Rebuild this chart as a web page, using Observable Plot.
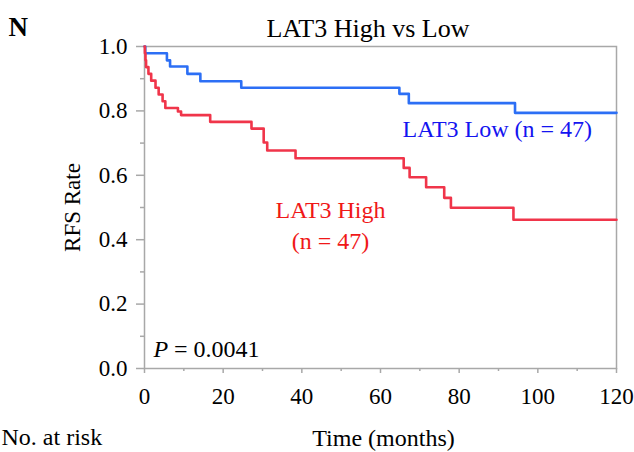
<!DOCTYPE html>
<html>
<head>
<meta charset="utf-8">
<script src="https://cdn.jsdelivr.net/npm/d3@7"></script>
<script src="https://cdn.jsdelivr.net/npm/@observablehq/plot@0.6"></script>
<style>
  html, body { margin: 0; padding: 0; background: white; }
</style>
</head>
<body>
<div id="chart"></div>
<script>
// LAT3 Low (n = 47): Kaplan–Meier step points (months, RFS rate)
const lowTime = [0, 0.2, 5.7, 6.5, 10.9, 14.2, 24.6, 64.8, 67.2, 94.2, 120];
const lowRate = [1.0, 0.979, 0.957, 0.938, 0.915, 0.892, 0.872, 0.853, 0.824, 0.794, 0.794];

// LAT3 High (n = 47)
const highTime = [0, 0.1, 0.25, 0.4, 1.0, 1.7, 2.8, 3.6, 4.6, 5.3, 8.5, 9.3, 16.7, 27.2, 30.3, 31.2, 38.4, 65.9, 67.4, 71.6, 76.2, 77.9, 93.8, 120];
const highRate = [1.0, 0.979, 0.957, 0.936, 0.915, 0.894, 0.872, 0.851, 0.830, 0.809, 0.798, 0.787, 0.766, 0.745, 0.702, 0.677, 0.653, 0.623, 0.594, 0.563, 0.530, 0.499, 0.462, 0.462];

// Tick labels
const xTicks = [0, 20, 40, 60, 80, 100, 120];
const xMinorTicks = [10, 30, 50, 70, 90, 110];
const yTicks = [0, 0.2, 0.4, 0.6, 0.8, 1.0];
const yMinorTicks = [0.1, 0.3, 0.5, 0.7, 0.9];

const lowData = lowTime.map((t, i) => ({t, s: lowRate[i]}));
const highData = highTime.map((t, i) => ({t, s: highRate[i]}));

const gray = "#a8a8a8";
const blue = "#2c6ff5";
const red = "#f0354a";

const chart = Plot.plot({
  width: 634,
  height: 452,
  marginLeft: 144,
  marginRight: 18,
  marginTop: 46,
  marginBottom: 84,
  style: {fontFamily: "'Liberation Serif', 'Times New Roman', serif", fontSize: "23px", background: "white", color: "black", overflow: "visible"},
  x: {domain: [0, 120]},
  y: {domain: [0, 1]},
  marks: [
    Plot.frame({stroke: gray, strokeWidth: 1.5}),
    Plot.axisY(yTicks, {anchor: "left", tickSize: 8, tickPadding: 9, stroke: gray, strokeWidth: 1.5, fill: "black", fontSize: 23, tickFormat: d => d.toFixed(1), label: null}),
    Plot.axisY(yMinorTicks, {anchor: "left", tickSize: 4, stroke: gray, strokeWidth: 1.5, tickFormat: () => "", label: null}),
    Plot.axisX(xTicks, {anchor: "bottom", tickSize: 5, tickPadding: 14, stroke: gray, strokeWidth: 1.5, fill: "black", fontSize: 23, label: null}),
    Plot.axisX(xMinorTicks, {anchor: "bottom", tickSize: 3, stroke: gray, strokeWidth: 1.5, tickFormat: () => "", label: null}),
    Plot.line(lowData, {x: "t", y: "s", curve: "step-after", stroke: blue, strokeWidth: 2.6}),
    Plot.line(highData, {x: "t", y: "s", curve: "step-after", stroke: red, strokeWidth: 2.6}),
    // Group labels
    Plot.text(["LAT3 Low (n = 47)"], {x: 89.7, y: 0.744, text: d => d, fill: "#1414f0", fontSize: 24, textAnchor: "middle", lineAnchor: "middle"}),
    Plot.text(["LAT3 High\n(n = 47)"], {x: 47.3, y: 0.451, text: d => d, fill: "#f01818", fontSize: 24, textAnchor: "middle", lineAnchor: "middle", lineHeight: 1.3}),
    // P value
    Plot.text(["P"], {x: 2.3, y: 0.061, text: d => d, fontSize: 24, fontStyle: "italic", textAnchor: "start", lineAnchor: "middle"}),
    Plot.text([" = 0.0041"], {x: 2.3, y: 0.061, dx: 14.5, text: d => d, fontSize: 24, textAnchor: "start", lineAnchor: "middle"}),
    // Title and panel letter
    Plot.text(["LAT3 High vs Low"], {frameAnchor: "top", dx: -12.5, dy: -9.5, text: d => d, fontSize: 26, textAnchor: "middle", lineAnchor: "bottom"}),
    Plot.text(["N"], {frameAnchor: "top-left", dx: -136, dy: -11, text: d => d, fontSize: 27, fontWeight: "bold", textAnchor: "start", lineAnchor: "bottom"}),
    // Axis titles
    Plot.text(["RFS Rate"], {frameAnchor: "left", dx: -72, text: d => d, fontSize: 23, rotate: -90, textAnchor: "middle", lineAnchor: "middle"}),
    Plot.text(["Time (months)"], {frameAnchor: "bottom", dx: 3, dy: 77, text: d => d, fontSize: 24, textAnchor: "middle", lineAnchor: "bottom"}),
    Plot.text(["No. at risk"], {frameAnchor: "bottom-left", dx: -143, dy: 76, text: d => d, fontSize: 24, textAnchor: "start", lineAnchor: "bottom"})
  ]
});

document.getElementById("chart").appendChild(chart);
</script>
</body>
</html>
